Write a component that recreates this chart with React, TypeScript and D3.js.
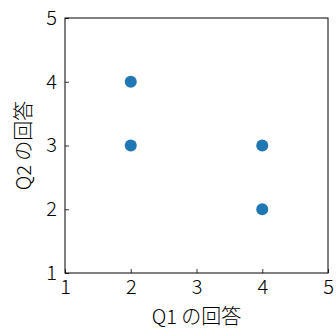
import React, { useRef, useEffect } from 'react';
import * as d3 from 'd3';

const q1Answers = [2, 2, 4, 4];
const q2Answers = [4, 3, 3, 2];
const tickValues = [1, 2, 3, 4, 5];
const xLabel = 'Q1 の回答';
const yLabel = 'Q2 の回答';

const width = 336;
const height = 329;
const margin = { top: 18, right: 8, bottom: 56, left: 65 };
const font = '"Noto Sans CJK JP", "Noto Sans", sans-serif';

const App = () => {
  const svgRef = useRef<SVGSVGElement>(null);

  useEffect(() => {
    if (!svgRef.current) return;
    d3.select(svgRef.current).selectAll('*').remove();

    const innerWidth = width - margin.left - margin.right;
    const innerHeight = height - margin.top - margin.bottom;

    const svg = d3.select(svgRef.current)
      .append('g')
      .attr('transform', `translate(${margin.left},${margin.top})`);

    const x = d3.scaleLinear().domain([1, 5]).range([0, innerWidth]);
    const y = d3.scaleLinear().domain([1, 5]).range([innerHeight, 0]);

    // axes, ticks pointing inward
    const xAxis = svg.append('g')
      .attr('transform', `translate(0,${innerHeight})`)
      .call(d3.axisBottom(x).tickValues(tickValues).tickFormat(d3.format('d')).tickSizeInner(-4).tickSizeOuter(0).tickPadding(7));
    const yAxis = svg.append('g')
      .call(d3.axisLeft(y).tickValues(tickValues).tickFormat(d3.format('d')).tickSizeInner(-4).tickSizeOuter(0).tickPadding(8));

    [xAxis, yAxis].forEach(a => {
      a.select('.domain').remove();
      a.selectAll('line').attr('stroke', '#000').attr('stroke-width', 0.8);
      a.selectAll('text')
        .attr('fill', '#000')
        .style('font-family', font)
        .style('font-weight', 300)
        .style('font-size', '20px');
    });

    // frame
    svg.append('rect')
      .attr('width', innerWidth)
      .attr('height', innerHeight)
      .attr('fill', 'none')
      .attr('stroke', '#000')
      .attr('stroke-width', 1);

    // points
    svg.selectAll('.dot')
      .data(q1Answers.map((v, i) => ({ q1: v, q2: q2Answers[i] })))
      .enter()
      .append('circle')
      .attr('class', 'dot')
      .attr('cx', d => x(d.q1))
      .attr('cy', d => y(d.q2))
      .attr('r', 6)
      .attr('fill', '#1f77b4');

    // labels
    svg.append('text')
      .attr('x', innerWidth / 2)
      .attr('y', innerHeight + 51)
      .attr('text-anchor', 'middle')
      .style('font-family', font)
      .style('font-weight', 300)
      .style('font-size', '20px')
      .text(xLabel);

    svg.append('text')
      .attr('transform', `translate(${-34},${innerHeight / 2}) rotate(-90)`)
      .attr('text-anchor', 'middle')
      .style('font-family', font)
      .style('font-weight', 300)
      .style('font-size', '20px')
      .text(yLabel);
  }, []);

  return (
    <svg ref={svgRef} width={width} height={height}
      style={{ position: 'absolute', left: 0, top: 0, background: '#fff' }} />
  );
};

export default App;
